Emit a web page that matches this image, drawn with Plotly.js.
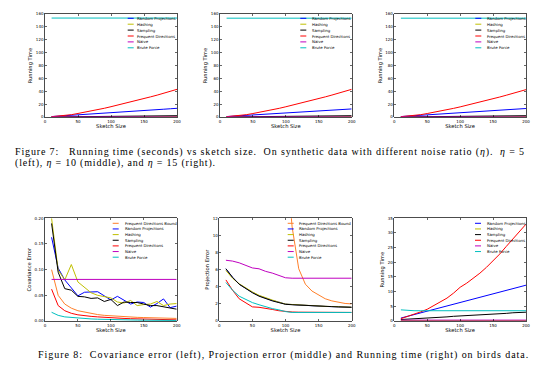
<!DOCTYPE html>
<html>
<head>
<meta charset="utf-8">
<script src="https://cdn.plot.ly/plotly-3.0.1.min.js"></script>
<style>html,body{margin:0;padding:0;background:#fff;}#chart{width:560px;height:388px;}</style>
</head>
<body>
<div id="chart"></div>
<script>
// ---------------- DATA ----------------
const sketchSize = [10,20,30,40,50,60,70,80,90,100,110,120,130,140,150,160,170,180,190,200];

// Figure 7: running time on synthetic data, eta = 5 / 10 / 15
const eta5_randomProjections = [0.7,1.3,2.0,2.6,3.3,4.0,4.6,5.3,6.0,6.7,7.3,8.0,8.6,9.3,10.0,10.7,11.4,12.1,12.8,13.5];
const eta5_hashing = [0.1,0.1,0.1,0.2,0.2,0.2,0.2,0.3,0.3,0.3,0.3,0.4,0.4,0.4,0.4,0.5,0.5,0.5,0.5,0.6];
const eta5_sampling = [0.1,0.2,0.3,0.4,0.5,0.6,0.7,0.8,0.9,1.0,1.1,1.2,1.3,1.4,1.5,1.6,1.7,1.8,1.9,2.0];
const eta5_frequentDirections = [0.5,1.2,2.2,3.6,5.5,7.3,9.3,11.4,13.6,16.0,18.4,20.8,23.3,26.0,28.6,31.3,34.0,37.0,40.0,43.0];
const eta5_naive = [0.1,0.1,0.1,0.1,0.1,0.1,0.1,0.1,0.1,0.1,0.1,0.1,0.1,0.1,0.1,0.1,0.1,0.1,0.1,0.1];
const eta5_bruteForce = [153.7,153.7,153.7,153.7,153.7,153.7,153.7,153.7,153.7,153.7,153.7,153.7,153.7,153.7,153.7,153.7,153.7,153.7,153.7,153.7];

const eta10_randomProjections = [0.7,1.3,1.9,2.5,3.1,3.7,4.3,4.9,5.5,6.1,6.8,7.4,8.0,8.6,9.2,9.8,10.5,11.1,11.8,12.5];
const eta10_hashing = [0.1,0.1,0.1,0.2,0.2,0.2,0.2,0.3,0.3,0.3,0.3,0.4,0.4,0.4,0.4,0.5,0.5,0.5,0.5,0.6];
const eta10_sampling = [0.1,0.2,0.3,0.4,0.5,0.6,0.7,0.8,0.9,1.0,1.1,1.2,1.3,1.4,1.5,1.6,1.7,1.8,1.9,2.0];
const eta10_frequentDirections = [0.5,1.2,2.2,3.6,5.4,7.2,9.2,11.3,13.5,15.9,18.3,20.8,23.3,25.9,28.6,31.3,34.1,37.0,40.0,43.0];
const eta10_naive = [0.1,0.1,0.1,0.1,0.1,0.1,0.1,0.1,0.1,0.1,0.1,0.1,0.1,0.1,0.1,0.1,0.1,0.1,0.1,0.1];
const eta10_bruteForce = [153.5,153.5,153.5,153.5,153.5,153.5,153.5,153.5,153.5,153.5,153.5,153.5,153.5,153.5,153.5,153.5,153.5,153.5,153.5,153.5];

const eta15_randomProjections = [0.7,1.3,2.0,2.6,3.2,3.9,4.5,5.2,5.8,6.5,7.1,7.8,8.4,9.1,9.8,10.4,11.1,11.8,12.5,13.2];
const eta15_hashing = [0.1,0.1,0.1,0.2,0.2,0.2,0.2,0.3,0.3,0.3,0.3,0.4,0.4,0.4,0.4,0.5,0.5,0.5,0.5,0.6];
const eta15_sampling = [0.1,0.2,0.3,0.4,0.5,0.6,0.7,0.8,0.9,1.0,1.1,1.2,1.3,1.4,1.5,1.6,1.7,1.8,1.9,2.0];
const eta15_frequentDirections = [0.5,1.2,2.2,3.6,5.4,7.2,9.1,11.2,13.4,15.7,18.1,20.6,23.1,25.7,28.3,31.0,33.8,36.6,39.5,42.5];
const eta15_naive = [0.1,0.1,0.1,0.1,0.1,0.1,0.1,0.1,0.1,0.1,0.1,0.1,0.1,0.1,0.1,0.1,0.1,0.1,0.1,0.1];
const eta15_bruteForce = [153.5,153.5,153.5,153.5,153.5,153.5,153.5,153.5,153.5,153.5,153.5,153.5,153.5,153.5,153.5,153.5,153.5,153.5,153.5,153.5];

// Figure 8 (left): covariance error on birds data
const cov_fdBound = [0.100,0.050,0.033,0.025,0.020,0.017,0.014,0.0125,0.011,0.010,0.009,0.0083,0.0077,0.0071,0.0067,0.0063,0.0059,0.0056,0.0053,0.0050];
const cov_randomProjections = [0.163,0.103,0.080,0.065,0.049,0.056,0.056,0.057,0.049,0.041,0.048,0.040,0.033,0.037,0.036,0.027,0.034,0.043,0.026,0.029];
const cov_hashing = [0.200,0.099,0.080,0.110,0.076,0.066,0.055,0.050,0.047,0.045,0.037,0.035,0.040,0.030,0.032,0.033,0.038,0.030,0.033,0.034];
const cov_sampling = [0.190,0.095,0.063,0.060,0.048,0.047,0.044,0.045,0.038,0.042,0.030,0.037,0.036,0.036,0.033,0.030,0.030,0.028,0.025,0.023];
const cov_frequentDirections = [0.062,0.030,0.020,0.015,0.012,0.010,0.009,0.008,0.007,0.006,0.0055,0.005,0.0045,0.004,0.0037,0.0033,0.003,0.0027,0.0024,0.0022];
const cov_naive = [0.081,0.081,0.081,0.081,0.081,0.081,0.081,0.081,0.081,0.081,0.081,0.081,0.081,0.081,0.081,0.081,0.081,0.081,0.081,0.081];
const cov_bruteForce = [0.017,0.011,0.008,0.007,0.005,0.0045,0.004,0.0035,0.003,0.0028,0.0025,0.0022,0.002,0.0018,0.0016,0.0015,0.0014,0.0013,0.0012,0.0011];

// Figure 8 (middle): projection error on birds data
const proj_fdBound = [null,null,null,null,null,null,null,null,null,20.0,11.0,6.1,4.3,3.5,3.0,2.6,2.35,2.2,2.05,2.0];
const proj_randomProjections = [6.1,5.1,4.3,3.8,3.35,2.95,2.65,2.4,2.2,1.97,1.92,1.86,1.81,1.76,1.73,1.70,1.68,1.65,1.62,1.60];
const proj_hashing = [5.9,5.0,4.35,3.85,3.4,3.0,2.7,2.45,2.2,1.98,1.93,1.87,1.82,1.77,1.74,1.71,1.69,1.66,1.63,1.61];
const proj_sampling = [6.1,5.1,4.3,3.75,3.3,2.9,2.6,2.35,2.15,1.95,1.9,1.85,1.8,1.75,1.72,1.70,1.68,1.65,1.62,1.60];
const proj_frequentDirections = [4.8,3.6,2.6,2.1,1.65,1.6,1.5,1.35,1.2,1.1,1.05,1.03,1.02,1.01,1.0,1.0,1.0,1.0,1.0,1.0];
const proj_naive = [7.1,7.0,6.8,6.5,6.2,6.1,5.8,5.6,5.3,5.05,5.0,5.0,5.0,5.0,5.0,5.0,5.0,5.0,5.0,5.0];
const proj_bruteForce = [4.5,3.6,2.9,2.5,2.15,1.9,1.65,1.45,1.3,1.1,1.0,1.0,1.0,1.0,1.0,1.0,1.0,1.0,1.0,1.0];

// Figure 8 (right): running time on birds data
const birds_randomProjections = [1.0,1.6,2.2,2.8,3.4,4.0,4.6,5.1,5.7,6.3,6.9,7.5,8.1,8.6,9.2,9.8,10.4,11.0,11.6,12.2];
const birds_hashing = [0.15,0.15,0.15,0.15,0.15,0.15,0.15,0.15,0.15,0.15,0.15,0.15,0.15,0.15,0.15,0.15,0.15,0.15,0.15,0.15];
const birds_sampling = [0.5,0.6,0.8,0.9,1.0,1.2,1.3,1.4,1.6,1.7,1.8,2.0,2.1,2.2,2.4,2.5,2.6,2.8,2.9,3.0];
const birds_frequentDirections = [0.8,1.5,2.3,3.1,4.0,5.2,6.4,7.8,9.5,11.5,12.9,14.5,16.3,18.3,20.5,22.8,25.4,28.0,30.6,33.0];
const birds_naive = [0.3,0.3,0.3,0.3,0.3,0.3,0.3,0.3,0.3,0.3,0.3,0.3,0.3,0.3,0.3,0.3,0.3,0.3,0.3,0.3];
const birds_bruteForce = [3.8,3.6,3.5,3.5,3.5,3.5,3.5,3.5,3.5,3.5,3.5,3.5,3.5,3.5,3.5,3.5,3.5,3.5,3.5,3.5];

const xTicks = [0,50,100,150,200];
const topYTicks = [0,20,40,60,80,100,120,140,160];
const covYTicks = [0,0.05,0.10,0.15,0.20];
const projYTicks = [0,2,4,6,8,10,12];
const birdsYTicks = [0,5,10,15,20,25,30,35];

const runNames = ['Random Projections','Hashing','Sampling','Frequent Directions','Naive','Brute Force'];
const errNames = ['Frequent Directions Bound','Random Projections','Hashing','Sampling','Frequent Directions','Naive','Brute Force'];

const caption7a = 'Figure 7:&nbsp;&nbsp; Running time (seconds) vs sketch size.&nbsp; On synthetic data with different noise ratio (<i>η</i>).&nbsp; <i>η</i> = 5';
const caption7b = '(left), <i>η</i> = 10 (middle), and <i>η</i> = 15 (right).';
const caption8 = 'Figure 8:&nbsp; Covariance error (left), Projection error (middle) and Running time (right) on birds data.';

// ---------------- STYLE ----------------
const C = {
  'Frequent Directions Bound':'#ff7f2a',
  'Random Projections':'#0000ff',
  'Hashing':'#bfbf00',
  'Sampling':'#000000',
  'Frequent Directions':'#ff0000',
  'Naive':'#bf00bf',
  'Brute Force':'#00bfbf'
};
const W = 560, H = 388;
const px = x => x / W;
const py = y => 1 - y / H;

const panels = [
  {xd:[45,177],   yd:[14,117],    yr:[0,160], ticks:topYTicks, names:runNames,
   series:[eta5_randomProjections,eta5_hashing,eta5_sampling,eta5_frequentDirections,eta5_naive,eta5_bruteForce],
   ytitle:'Running Time', leg:{x0:127.7,tx:135,y0:18.3,dy:5.9}},
  {xd:[220,351.7], yd:[14,117],   yr:[0,160], ticks:topYTicks, names:runNames,
   series:[eta10_randomProjections,eta10_hashing,eta10_sampling,eta10_frequentDirections,eta10_naive,eta10_bruteForce],
   ytitle:'Running Time', leg:{x0:300.3,tx:310,y0:18.3,dy:5.9}},
  {xd:[394.3,526], yd:[14,117],   yr:[0,160], ticks:topYTicks, names:runNames,
   series:[eta15_randomProjections,eta15_hashing,eta15_sampling,eta15_frequentDirections,eta15_naive,eta15_bruteForce],
   ytitle:'Running Time', leg:{x0:475.3,tx:485,y0:18.3,dy:5.9}},
  {xd:[45,176.7],  yd:[218.3,321], yr:[0,0.2], ticks:covYTicks, names:errNames, fmt:'.2f',
   series:[cov_fdBound,cov_randomProjections,cov_hashing,cov_sampling,cov_frequentDirections,cov_naive,cov_bruteForce],
   ytitle:'Covariance Error', leg:{x0:112.7,tx:122.7,y0:223.3,dy:5.65}},
  {xd:[219.3,351.7], yd:[218.3,321], yr:[0,12], ticks:projYTicks, names:errNames,
   series:[proj_fdBound,proj_randomProjections,proj_hashing,proj_sampling,proj_frequentDirections,proj_naive,proj_bruteForce],
   ytitle:'Projection Error', leg:{x0:287.7,tx:297,y0:223.3,dy:5.65}},
  {xd:[394.3,526], yd:[218.3,321], yr:[0,35], ticks:birdsYTicks, names:runNames,
   series:[birds_randomProjections,birds_hashing,birds_sampling,birds_frequentDirections,birds_naive,birds_bruteForce],
   ytitle:'Running Time', leg:{x0:475,tx:485,y0:223.3,dy:5.65}}
];

const tickFont = {family:'DejaVu Sans', size:4, color:'#000'};
const titleFont = {family:'DejaVu Sans', size:5.2, color:'#000'};
const legFont = {family:'DejaVu Sans', size:3.9, color:'#000'};

const traces = [];
const shapes = [];
const annotations = [];
const layout = {
  width:W, height:H, margin:{l:0,r:0,t:0,b:0},
  paper_bgcolor:'#fff', plot_bgcolor:'#fff', showlegend:false
};

panels.forEach((p, i) => {
  const k = i === 0 ? '' : String(i + 1);
  const xa = 'x' + k, ya = 'y' + k;
  p.series.forEach((s, j) => {
    traces.push({
      type:'scatter', mode:'lines', x:sketchSize, y:s, name:p.names[j],
      xaxis:xa, yaxis:ya, line:{color:C[p.names[j]], width:1}, cliponaxis:true,
      connectgaps:false, hoverinfo:'skip'
    });
  });
  const axCommon = {
    showgrid:false, zeroline:false, showline:true, mirror:'allticks', linecolor:'#000', linewidth:0.7,
    ticks:'inside', ticklen:2, tickwidth:0.6, tickcolor:'#000', tickfont:tickFont
  };
  layout['xaxis' + k] = Object.assign({}, axCommon, {
    domain:[px(p.xd[0]), px(p.xd[1])], range:[0,200], anchor:ya,
    tickvals:xTicks, ticktext:xTicks.map(String),
    title:{text:'Sketch Size', font:titleFont, standoff:1}
  });
  layout['yaxis' + k] = Object.assign({}, axCommon, {
    domain:[py(p.yd[1]), py(p.yd[0])], range:p.yr, anchor:xa,
    tickvals:p.ticks, ticktext:p.ticks.map(v => p.fmt ? v.toFixed(2) : String(v)),
    title:{text:p.ytitle, font:titleFont, standoff:2}
  });
  // legend (drawn manually: short line samples)
  p.names.forEach((n, j) => {
    const yy = p.leg.y0 + j * p.leg.dy;
    shapes.push({type:'line', xref:'paper', yref:'paper',
      x0:px(p.leg.x0), x1:px(p.leg.x0 + 6), y0:py(yy), y1:py(yy),
      line:{color:C[n], width:1}});
    annotations.push({xref:'paper', yref:'paper', x:px(p.leg.tx), y:py(yy),
      xanchor:'left', yanchor:'middle', showarrow:false, text:n, font:legFont});
  });
});

// captions
const capFont = {family:'Liberation Serif', size:10, color:'#000'};
const capStart = annotations.length;
const caps = [
  {text:caption7a, x:13, y:151.8, ls:0.85},
  {text:caption7b, x:13, y:162.6, ls:0.8},
  {text:caption8,  x:36, y:355,   ls:0.95}
];
caps.forEach(c => annotations.push({xref:'paper', yref:'paper', x:px(c.x), y:py(c.y),
  xanchor:'left', yanchor:'middle', align:'left', showarrow:false, font:capFont, text:c.text}));

layout.shapes = shapes;
layout.annotations = annotations;

Plotly.newPlot('chart', traces, layout, {displayModeBar:false, staticPlot:true}).then(gd => {
  caps.forEach((c, i) => {
    const g = gd.querySelector('.annotation[data-index="' + (capStart + i) + '"]');
    if (g) g.querySelectorAll('text').forEach(t => { t.style.letterSpacing = c.ls + 'px'; });
  });
});
</script>
</body>
</html>
